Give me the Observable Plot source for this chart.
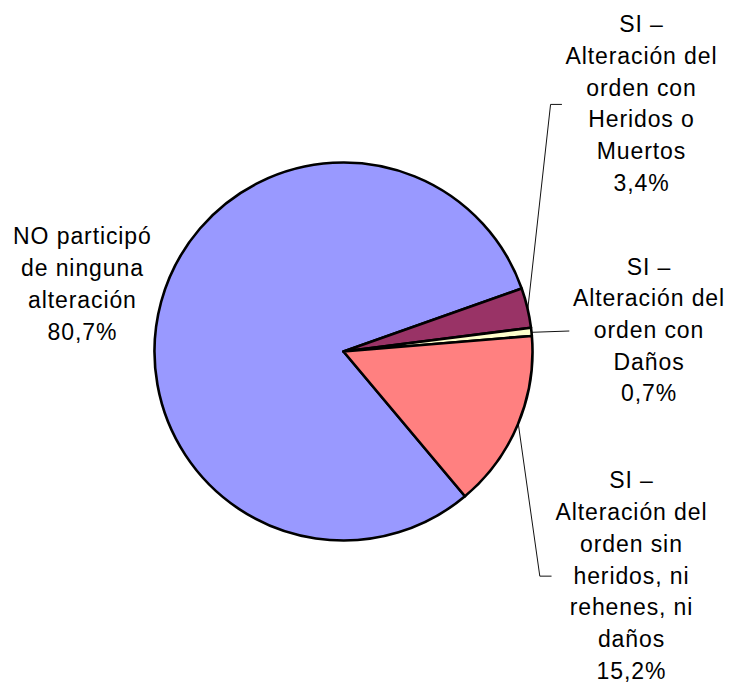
<!DOCTYPE html>
<html>
<head>
<meta charset="utf-8">
<script src="https://cdn.jsdelivr.net/npm/d3@7"></script>
<script src="https://cdn.jsdelivr.net/npm/@observablehq/plot@0.6"></script>
<style>
  html, body { margin: 0; padding: 0; background: #ffffff; }
</style>
</head>
<body>
<div id="chart"></div>
<script>
// ---- data ----
const categories = [
  "NO participó de ninguna alteración",
  "SI – Alteración del orden con Heridos o Muertos",
  "SI – Alteración del orden con Daños",
  "SI – Alteración del orden sin heridos, ni rehenes, ni daños"
];
const labelLines = [
  ["NO participó", "de ninguna", "alteración"],
  ["SI –", "Alteración del", "orden con", "Heridos o", "Muertos"],
  ["SI –", "Alteración del", "orden con", "Daños"],
  ["SI –", "Alteración del", "orden sin", "heridos, ni", "rehenes, ni", "daños"]
];
const values = [80.7, 3.4, 0.7, 15.2];
const colors = ["#9999FF", "#993366", "#FFFFCC", "#FF8080"];

// ---- layout (pie units: radius = 1, y up) ----
const startDeg = 140;                 // first slice starts here (clockwise from 12 o'clock)
const labelPos = [                    // top of each label block
  {x: -1.384, y: 0.688},
  {x: 1.574, y: 1.811},
  {x: 1.614, y: 0.529},
  {x: 1.521, y: -0.603}
];
const leaderBends = [                 // extra leader points after the slice edge
  [],
  [{x: 1.093, y: 1.310}, {x: 1.151, y: 1.310}],
  [{x: 1.190, y: 0.111}],
  [{x: 1.036, y: -1.186}, {x: 1.096, y: -1.186}]
];

const fmt = v => v.toFixed(1).replace(".", ",") + "%";
const rows = categories.map((c, i) => ({category: c, value: values[i], color: colors[i], i}));

const pie = d3.pie().sort(null).value(d => d.value)
  .startAngle(startDeg * Math.PI / 180)
  .endAngle(startDeg * Math.PI / 180 + 2 * Math.PI);
const arcs = pie(rows);

const labels = rows.map((d, i) => ({
  x: labelPos[i].x, y: labelPos[i].y,
  text: [...labelLines[i], fmt(d.value)].join("\n")
}));

const leaders = [];
arcs.forEach((a, i) => {
  if (!leaderBends[i].length) return;
  const m = (a.startAngle + a.endAngle) / 2;
  leaders.push({x: Math.sin(m), y: Math.cos(m), k: i});
  leaderBends[i].forEach(p => leaders.push({x: p.x, y: p.y, k: i}));
});

const W = 738, H = 686;
const mL = 154.5, mR = 205.5, mT = 162.5, mB = 145.5;

function pieMark(index, scales, values, dim) {
  const ml = dim.marginLeft, mr = dim.marginRight, mt = dim.marginTop, mb = dim.marginBottom;
  const cx = ml + (dim.width - ml - mr) / 2;
  const cy = mt + (dim.height - mt - mb) / 2;
  const r = (dim.width - ml - mr) / 2;
  const arcGen = d3.arc().innerRadius(0).outerRadius(r);
  const g = d3.create("svg:g").attr("transform", `translate(${cx},${cy})`);
  g.selectAll("path").data(arcs).join("path")
    .attr("d", arcGen)
    .attr("fill", d => d.data.color)
    .attr("stroke", "#000")
    .attr("stroke-width", 2.6)
    .attr("stroke-linejoin", "round");
  return g.node();
}

const chart = Plot.plot({
  width: W,
  height: H,
  marginLeft: mL, marginRight: mR, marginTop: mT, marginBottom: mB,
  x: {domain: [-1, 1], axis: null},
  y: {domain: [-1, 1], axis: null},
  style: {fontFamily: "'Liberation Sans', Arial, sans-serif", letterSpacing: "0.9px", background: "#fff", overflow: "visible"},
  marks: [
    Plot.line(leaders, {x: "x", y: "y", z: "k", stroke: "#111", strokeWidth: 1}),
    pieMark,
    Plot.text(labels, {x: "x", y: "y", text: "text", fontSize: 23, lineHeight: 1.378, lineAnchor: "top", textAnchor: "middle", fill: "#000"})
  ]
});
document.getElementById("chart").appendChild(chart);
</script>
</body>
</html>
